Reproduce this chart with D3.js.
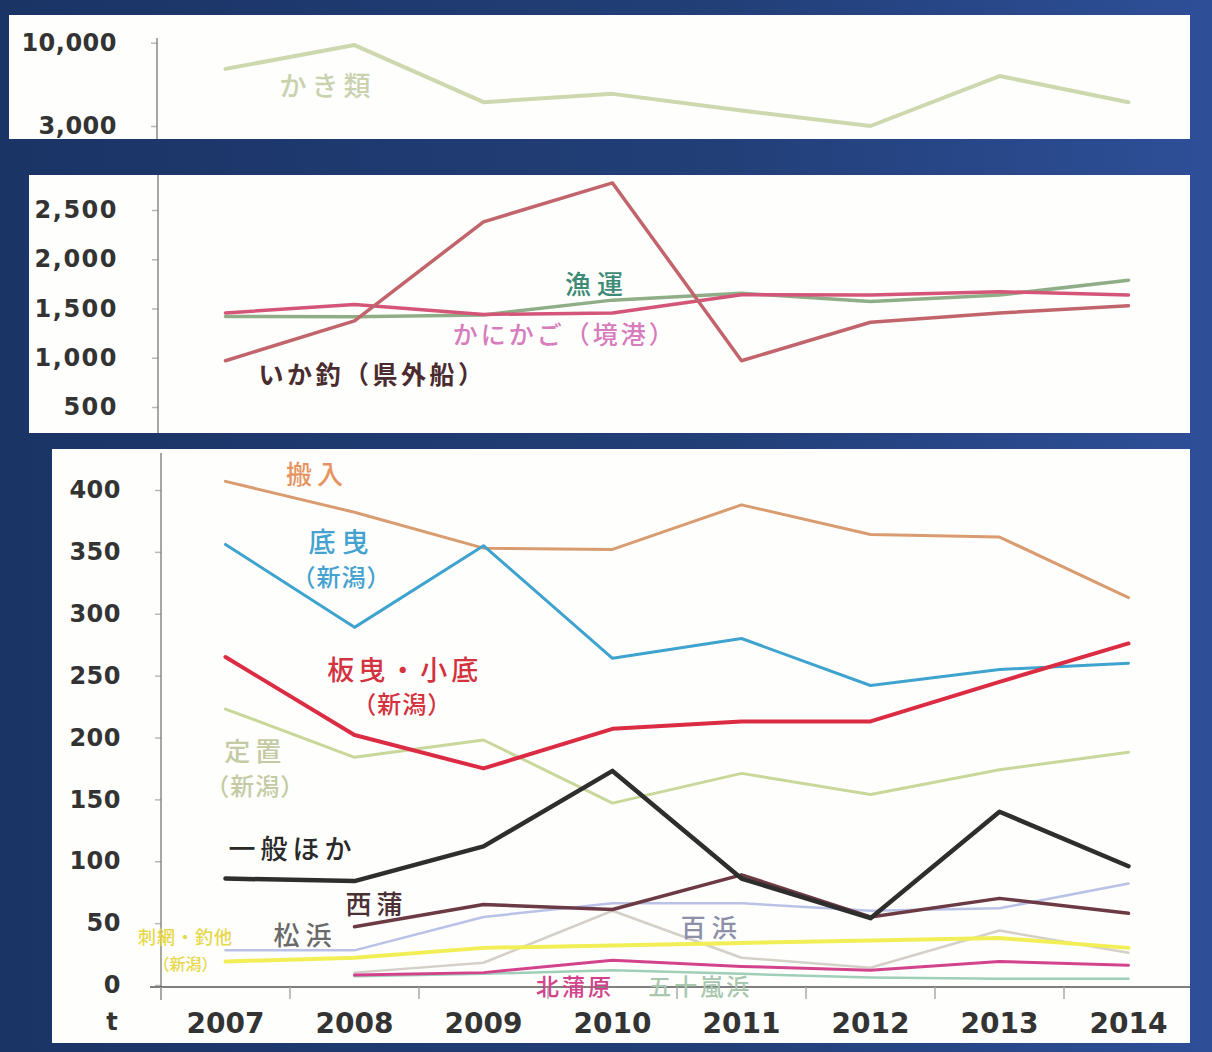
<!DOCTYPE html>
<html>
<head>
<meta charset="utf-8">
<script src="https://cdn.jsdelivr.net/npm/d3@7"></script>
<style>
  html, body { margin: 0; padding: 0; background: #213c74; }
  svg { display: block; }
</style>
</head>
<body>
<svg id="chart" width="1212" height="1052"></svg>
<script>
// ---- data (t, by year) ----
const years = [2007, 2008, 2009, 2010, 2011, 2012, 2013, 2014];

// upper panel
const kakiRui = [7800, 9800, 5000, 5700, 4300, 3000, 7200, 5000];
const topTicks = [3000, 10000];

// middle panel
const ikaTsuri = [970, 1375, 2380, 2775, 970, 1360, 1455, 1528];
const gyoun = [1420, 1415, 1435, 1585, 1655, 1570, 1637, 1787];
const kanikago = [1455, 1540, 1440, 1455, 1640, 1637, 1671, 1637];
const midTicks = [500, 1000, 1500, 2000, 2500];

// lower panel
const hannyu = [407, 382, 353, 352, 388, 364, 362, 313];
const sokobiki = [356, 289, 355, 264, 280, 242, 255, 260];
const itabiki = [265, 202, 175, 207, 213, 213, 245, 276];
const teichi = [223, 184, 198, 147, 171, 154, 174, 188];
const ippan = [86, 84, 112, 173, 86, 54, 140, 96];
const nishikan = [null, 47, 65, 61, 89, 55, 70, 58];
const matsuhama = [28, 28, 55, 66, 66, 60, 62, 82];
const sashiami = [19, 22, 30, 32, 34, 36, 38, 30];
const hyakuhama = [null, 10, 18, 60, 22, 14, 44, 26];
const kitakan = [null, 8, 10, 20, 15, 12, 19, 16];
const igarashi = [null, 7, 9, 12, 9, 6, 5, 5];
const lowTicks = [0, 50, 100, 150, 200, 250, 300, 350, 400];

const svg = d3.select("#chart");
const W = 1212, H = 1052;

// slide backdrop
const defs = svg.append("defs");
const grad = defs.append("linearGradient").attr("id", "bg").attr("x1", 0).attr("x2", 1).attr("y1", 0).attr("y2", 0);
grad.append("stop").attr("offset", "0%").attr("stop-color", "#1b3466");
grad.append("stop").attr("offset", "60%").attr("stop-color", "#223f78");
grad.append("stop").attr("offset", "100%").attr("stop-color", "#2e4f98");
svg.append("rect").attr("width", W).attr("height", H).attr("fill", "url(#bg)");

// shared year scale: each year sits in the middle of its band
const x = d3.scaleLinear().domain([2006.5, 2014.5]).range([161, 1193]);

const numFont = "'DejaVu Sans', Verdana, sans-serif";
const jpFont = "'Noto Sans CJK JP', 'Noto Sans', sans-serif";

function panel(rect) {
  svg.append("rect")
    .attr("x", rect.x).attr("y", rect.y)
    .attr("width", rect.w).attr("height", rect.h)
    .attr("fill", "#fefefc");
}

function yAxis(g, y, ticks, fmt, axisX, top, bottom, fontSize, spacing) {
  const ax = g.append("g").attr("transform", `translate(${axisX},0)`)
    .call(d3.axisLeft(y).tickValues(ticks).tickFormat(fmt).tickSize(6).tickPadding(34));
  ax.select(".domain").remove();
  ax.selectAll(".tick line").attr("stroke", "#b8b8b8").attr("stroke-width", 1.5);
  ax.selectAll(".tick text")
    .attr("fill", "#333")
    .attr("font-family", numFont)
    .attr("font-weight", "bold")
    .attr("font-size", fontSize)
    .attr("letter-spacing", spacing);
  g.append("line").attr("x1", axisX).attr("x2", axisX).attr("y1", top).attr("y2", bottom)
    .attr("stroke", "#777").attr("stroke-width", 1.3);
}

function drawLine(g, y, values, color, width, opacity) {
  const pts = years.map((yr, i) => ({ yr, v: values[i] }));
  g.append("path")
    .datum(pts)
    .attr("fill", "none")
    .attr("stroke", color)
    .attr("stroke-width", width)
    .attr("stroke-opacity", opacity == null ? 1 : opacity)
    .attr("stroke-linejoin", "round")
    .attr("stroke-linecap", "round")
    .attr("d", d3.line().defined(d => d.v != null).x(d => x(d.yr)).y(d => y(d.v)));
}

function label(g, y, yr, v, text, color, size, weight, spacing) {
  g.append("text")
    .attr("x", x(yr)).attr("y", y(v))
    .attr("text-anchor", "middle")
    .attr("dominant-baseline", "central")
    .attr("font-family", jpFont)
    .attr("font-size", size)
    .attr("font-weight", weight || "500")
    .attr("letter-spacing", spacing == null ? 4 : spacing)
    .attr("fill", color)
    .text(text);
}

// ---------- upper panel ----------
panel({ x: 9, y: 15, w: 1181, h: 124 });
const gTop = svg.append("g");
const yTop = d3.scaleLinear().domain([3000, 10000]).range([126, 42.7]);
yAxis(gTop, yTop, topTicks, d3.format(","), 157, 38, 139, 24, 0.5);
drawLine(gTop, yTop, kakiRui, "#cdd8ae", 4);
label(gTop, yTop, 2007.79, 6450, "かき類", "#c9d2ae", 27, "500", 5);

// ---------- middle panel ----------
panel({ x: 29, y: 175, w: 1161, h: 258 });
const gMid = svg.append("g");
const yMid = d3.scaleLinear().domain([500, 2500]).range([407, 210]);
yAxis(gMid, yMid, midTicks, d3.format(","), 158, 175, 433, 24, 1.5);
drawLine(gMid, yMid, gyoun, "#8fae88", 3.5);
drawLine(gMid, yMid, kanikago, "#d45577", 3.5);
drawLine(gMid, yMid, ikaTsuri, "#c2646c", 3.5);
label(gMid, yMid, 2009.88, 1760, "漁運", "#3d8a76", 26, "500", 6);
label(gMid, yMid, 2009.63, 1252, "かにかご（境港）", "#d77cbc", 25, "500", 3);
label(gMid, yMid, 2008.14, 846, "いか釣（県外船）", "#4a2b30", 25, "bold", 3.5);

// ---------- lower panel ----------
panel({ x: 52, y: 449, w: 1138, h: 594 });
const gLow = svg.append("g");
const yLow = d3.scaleLinear().domain([0, 400]).range([985, 490]);
yAxis(gLow, yLow, lowTicks, d3.format("d"), 161, 453, 1000, 24, 0.5);

// x axis along zero
gLow.append("line").attr("x1", 150).attr("x2", 1190).attr("y1", yLow(0) + 2).attr("y2", yLow(0) + 2)
  .attr("stroke", "#555").attr("stroke-width", 1.5);
const bounds = d3.range(2006.5, 2014, 1);
gLow.selectAll(".xtick").data(bounds).join("line")
  .attr("x1", d => x(d)).attr("x2", d => x(d))
  .attr("y1", yLow(0) + 2).attr("y2", yLow(0) + 14)
  .attr("stroke", "#aaa").attr("stroke-width", 1.5);
gLow.selectAll(".year").data(years).join("text")
  .attr("x", d => x(d)).attr("y", 1033)
  .attr("text-anchor", "middle")
  .attr("font-family", numFont).attr("font-weight", "bold").attr("font-size", 28)
  .attr("fill", "#333")
  .text(d => d);
gLow.append("text").attr("x", 112).attr("y", 1030).attr("text-anchor", "middle")
  .attr("font-family", numFont).attr("font-weight", "bold").attr("font-size", 24)
  .attr("fill", "#333").text("t");

// faint minor series first
drawLine(gLow, yLow, igarashi, "#9fcfb8", 2.5);
drawLine(gLow, yLow, hyakuhama, "#d4d0c8", 2.5);
drawLine(gLow, yLow, matsuhama, "#b9c2e6", 2.5);
drawLine(gLow, yLow, sashiami, "#f1ef55", 4);
drawLine(gLow, yLow, kitakan, "#d2438c", 3);
drawLine(gLow, yLow, nishikan, "#6b3a44", 3.5);
drawLine(gLow, yLow, teichi, "#c9d79a", 3);
drawLine(gLow, yLow, hannyu, "#d99c70", 3);
drawLine(gLow, yLow, sokobiki, "#3fa3cf", 3);
drawLine(gLow, yLow, itabiki, "#dc2c44", 4);
drawLine(gLow, yLow, ippan, "#2e2e2e", 4.5);

label(gLow, yLow, 2007.71, 414, "搬入", "#e59461", 26, "500", 5);
label(gLow, yLow, 2007.90, 359, "底曳", "#43a2cf", 27, "500", 6);
label(gLow, yLow, 2007.90, 331, "（新潟）", "#43a2cf", 24, "500", 1);
label(gLow, yLow, 2008.39, 256, "板曳・小底", "#d3323f", 27, "500", 4);
label(gLow, yLow, 2008.37, 228, "（新潟）", "#d3323f", 24, "500", 1);
label(gLow, yLow, 2007.23, 190, "定置", "#c4cba4", 26, "500", 5);
label(gLow, yLow, 2007.23, 162, "（新潟）", "#c4cba4", 24, "500", 1);
label(gLow, yLow, 2007.52, 111, "一般ほか", "#2a2a2a", 27, "500", 5);
label(gLow, yLow, 2008.17, 67, "西蒲", "#4a3034", 26, "500", 5);
label(gLow, yLow, 2007.62, 42, "松浜", "#6a6a6a", 26, "500", 6);
label(gLow, yLow, 2006.69, 40, "刺網・釣他", "#e6d84a", 18, "500", 1);
label(gLow, yLow, 2006.69, 18, "（新潟）", "#e6d84a", 16, "500", 0);
label(gLow, yLow, 2010.77, 48, "百浜", "#8b8fa8", 25, "500", 6);
label(gLow, yLow, 2009.71, 0, "北蒲原", "#d2438c", 23, "500", 3);
label(gLow, yLow, 2010.68, 0, "五十嵐浜", "#a9c7ae", 23, "500", 3);
</script>
</body>
</html>
